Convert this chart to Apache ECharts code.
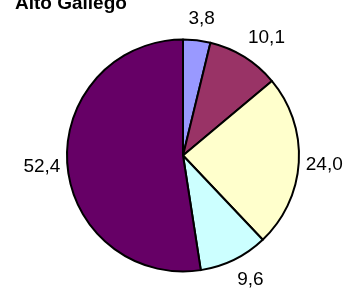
<!DOCTYPE html>
<html>
<head>
<meta charset="utf-8">
<script src="https://cdn.jsdelivr.net/npm/echarts@6/dist/echarts.min.js"></script>
<style>
  html, body { margin: 0; padding: 0; background: #fff; }
  #chart { width: 351px; height: 291px; }
</style>
</head>
<body>
<div id="chart"></div>
<script>
// datos del gráfico
var titulo = 'Alto Gállego';
var categorias = ['Sector 1', 'Sector 2', 'Sector 3', 'Sector 4', 'Sector 5'];
var valores = [3.8, 10.1, 24.0, 9.6, 52.4];
var colores = ['#9999ff', '#993366', '#ffffcc', '#ccffff', '#660066'];

var W = 351, H = 291;
var cx = 183, cy = 155.5, radio = 116;

// ángulo medio de cada sector (empieza arriba, sentido horario)
var total = valores.reduce(function (a, b) { return a + b; }, 0);
var medios = [];
var acum = 0;
valores.forEach(function (v) {
    medios.push(Math.PI / 2 - (acum + v / 2) / total * Math.PI * 2);
    acum += v;
});

function clamp(v) { return Math.max(-1, Math.min(1, v)); }

var myChart = echarts.init(document.getElementById('chart'));
var option = {
    backgroundColor: '#fff',
    animation: false,
    title: {
        text: titulo,
        left: 15,
        top: -6,
        padding: 0,
        textStyle: {
            fontFamily: 'Arial, "Liberation Sans"',
            fontSize: 19,
            fontWeight: 'bold',
            color: '#000'
        }
    },
    series: [{
        type: 'pie',
        center: [cx / W * 100 + '%', cy / H * 100 + '%'],
        radius: radio,
        startAngle: 90,
        clockwise: true,
        avoidLabelOverlap: false,
        data: valores.map(function (v, i) {
            return { name: categorias[i], value: v, itemStyle: { color: colores[i] } };
        }),
        itemStyle: { borderColor: '#000', borderWidth: 2 },
        label: {
            position: 'outside',
            fontFamily: 'Arial, "Liberation Sans"',
            fontSize: 19,
            color: '#000',
            formatter: function (p) { return p.value.toFixed(1).replace('.', ','); }
        },
        labelLine: { show: false },
        emphasis: { disabled: true },
        // etiquetas al estilo Excel: la esquina más cercana toca un círculo exterior
        labelLayout: function (params) {
            var a = medios[params.dataIndex];
            var c = Math.cos(a), s = Math.sin(a);
            var w = params.labelRect.width, h = params.labelRect.height;
            var ax = cx + (radio + 7) * c;
            var ay = cy - (radio + 12) * s;
            return {
                x: ax + clamp(c * 2.5) * w / 2,
                y: ay - clamp(s * 2.5) * h / 2,
                align: 'center',
                verticalAlign: 'middle'
            };
        }
    }]
};
myChart.setOption(option);
</script>
</body>
</html>
